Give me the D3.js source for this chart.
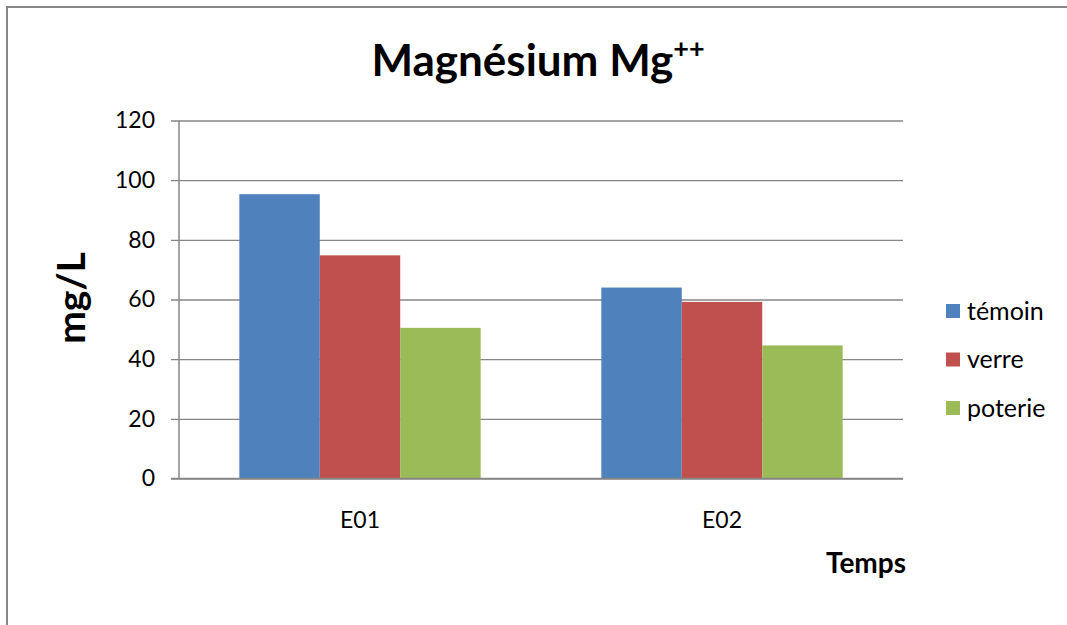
<!DOCTYPE html>
<html>
<head>
<meta charset="utf-8">
<script src="https://cdn.jsdelivr.net/npm/d3@7/dist/d3.min.js"></script>
<style>
  html, body { margin: 0; padding: 0; background: #fff; }
  svg { display: block; font-family: Lato, "Open Sans", sans-serif; }
</style>
</head>
<body>
<svg id="chart" width="1067" height="625"></svg>
<script>
// Magnesium concentration per sampling time and container type
const categories = ["E01", "E02"];
const seriesNames = ["témoin", "verre", "poterie"];
const temoin = [95.3, 64.0];
const verre = [74.8, 59.2];
const poterie = [50.5, 44.6];
const yTicks = [0, 20, 40, 60, 80, 100, 120];
const seriesColors = ["#4F81BD", "#C0504D", "#9BBB59"];

const seriesValues = [temoin, verre, poterie];
const rows = categories.map((c, i) => ({
  cat: c,
  vals: seriesNames.map((s, j) => ({ key: s, value: seriesValues[j][i] }))
}));

const svg = d3.select("#chart");
const gridColor = "#868686";

// Outer chart frame
svg.append("path")
  .attr("d", "M7,640 L7,7 L1080,7")
  .attr("fill", "none")
  .attr("stroke", "#878787")
  .attr("stroke-width", 2);

const plot = { left: 179, right: 903, top: 120.5, bottom: 478.5 };

const x = d3.scaleBand()
  .domain(categories)
  .range([plot.left, plot.right])
  .paddingInner(0)
  .paddingOuter(0);

const x1 = d3.scaleBand()
  .domain(seriesNames)
  .range([x.bandwidth() / 6, x.bandwidth() * 5 / 6]);

const y = d3.scaleLinear().domain([0, 120]).range([plot.bottom, plot.top]);

// Horizontal gridlines with left tick marks
const yAxis = d3.axisLeft(y)
  .tickValues(yTicks)
  .tickSize(-(plot.right - plot.left))
  .tickPadding(24)
  .tickFormat(d3.format("d"));

const gy = svg.append("g")
  .attr("transform", `translate(${plot.left},0)`)
  .call(yAxis);
gy.select(".domain").remove();
gy.selectAll(".tick line")
  .attr("stroke", gridColor)
  .attr("stroke-width", 1.3)
  .attr("x1", -8);
gy.selectAll(".tick text")
  .attr("font-size", 23)
  .attr("fill", "#000")
  .attr("font-family", "Lato, sans-serif");

// Bars
const groups = svg.append("g")
  .selectAll("g")
  .data(rows)
  .join("g")
  .attr("transform", d => `translate(${x(d.cat)},0)`);

groups.selectAll("rect")
  .data(d => d.vals)
  .join("rect")
  .attr("x", d => x1(d.key))
  .attr("y", d => y(d.value))
  .attr("width", x1.bandwidth())
  .attr("height", d => y(0) - y(d.value))
  .attr("fill", (d, i) => seriesColors[i]);

// Axis lines
svg.append("line")
  .attr("x1", plot.left).attr("x2", plot.left)
  .attr("y1", plot.top).attr("y2", plot.bottom)
  .attr("stroke", gridColor).attr("stroke-width", 1.5);
svg.append("line")
  .attr("x1", plot.left - 8).attr("x2", plot.right)
  .attr("y1", plot.bottom).attr("y2", plot.bottom)
  .attr("stroke", gridColor).attr("stroke-width", 1.5);

// Category labels
const xAxis = d3.axisBottom(x).tickSize(0).tickPadding(33);
const gx = svg.append("g")
  .attr("transform", `translate(0,${plot.bottom})`)
  .call(xAxis);
gx.select(".domain").remove();
gx.selectAll(".tick text")
  .attr("font-size", 23)
  .attr("fill", "#000")
  .attr("font-family", "Lato, sans-serif");

// Title
const title = svg.append("text")
  .attr("x", 538)
  .attr("y", 76)
  .attr("text-anchor", "middle")
  .attr("font-size", 44)
  .attr("font-weight", "bold")
  .attr("fill", "#000");
title.append("tspan").text("Magnésium Mg");
title.append("tspan")
  .attr("font-size", 27)
  .attr("dy", -18)
  .text("++");

// Axis titles
svg.append("text")
  .attr("transform", "translate(85,298) rotate(-90)")
  .attr("text-anchor", "middle")
  .attr("font-size", 39)
  .attr("font-weight", "bold")
  .attr("fill", "#000")
  .text("mg/L");

svg.append("text")
  .attr("x", 906)
  .attr("y", 573)
  .attr("text-anchor", "end")
  .attr("font-size", 28)
  .attr("font-weight", "bold")
  .attr("fill", "#000")
  .text("Temps");

// Legend
const legend = svg.append("g")
  .selectAll("g")
  .data(seriesNames)
  .join("g")
  .attr("transform", (d, i) => `translate(946,${311 + i * 48.5})`);
legend.append("rect")
  .attr("x", 0).attr("y", -7)
  .attr("width", 14).attr("height", 14)
  .attr("fill", (d, i) => seriesColors[i]);
legend.append("text")
  .attr("x", 21)
  .attr("y", 0)
  .attr("dy", "0.35em")
  .attr("font-size", 25)
  .attr("fill", "#000")
  .text(d => d);
</script>
</body>
</html>
